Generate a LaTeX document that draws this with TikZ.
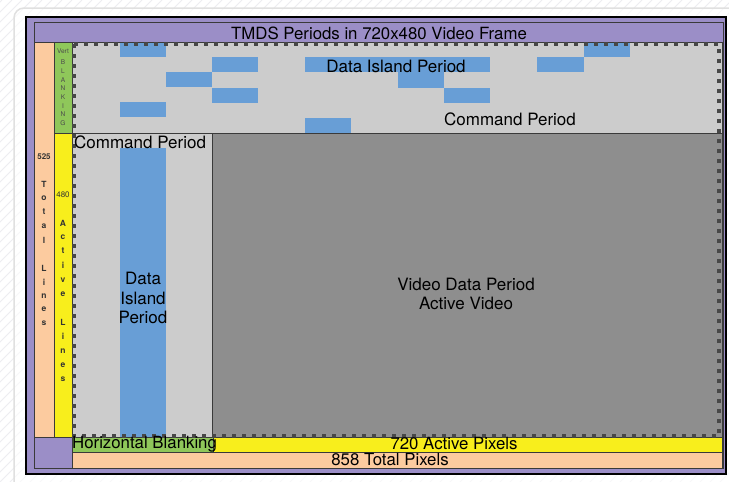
\documentclass[tikz,border=0pt]{standalone}
\usepackage{fontspec}
\setmainfont{TeX Gyre Heros}
\definecolor{pur}{HTML}{9B8EC7}
\definecolor{peach}{HTML}{FCCB9F}
\definecolor{grn}{HTML}{8FC75A}
\definecolor{yel}{HTML}{F8EE1C}
\definecolor{lgr}{HTML}{CCCCCC}
\definecolor{dgr}{HTML}{8E8E8E}
\definecolor{blu}{HTML}{689ED6}
\definecolor{edge}{HTML}{3A3A3A}
\definecolor{hatch}{HTML}{EDEDF1}
\begin{document}
\begin{tikzpicture}[x=1pt,y=-1pt,
  band/.style={draw=edge,line width=0.8pt},
  blk/.style={fill=blu,draw=none},
  lbl/.style={inner sep=0pt,font=\fontsize{17}{19}\selectfont,text=black},
  lblb/.style={inner sep=0pt,font=\fontsize{16.8}{18}\selectfont,text=black},
  tiny/.style={inner sep=0pt,font=\fontsize{8}{9}\selectfont,text=black!80},
  tinier/.style={inner sep=0pt,font=\fontsize{6.5}{7}\selectfont,text=black!70},
  dotbox/.style={draw=black!72,line width=4pt,dash pattern=on 4pt off 6pt}]
\useasboundingbox (0,0) rectangle (729,482);
\fill[white] (0,0) rectangle (729,482);
\begin{scope}
\clip (0,0) rectangle (729,482);
\foreach \i in {-480,-470,...,730} \draw[hatch,line width=0.8pt] (\i,482) -- (\i+482,0);
\end{scope}
\draw[black!12,line width=1.5pt,rounded corners=10pt,fill=white,fill opacity=0.6] (14,8) rectangle (760,500);
% outer frame
\draw[black,line width=2.5pt,fill=pur] (26,17) rectangle (726,474);
\draw[band] (34,22) rectangle (723,468);
% title
\draw[band,fill=pur] (34,22) rectangle (723,42);
\node[lblb] (title) at (379,33) {TMDS Periods in 720x480 Video Frame};
% left columns
\draw[band,fill=peach] (34,42) rectangle (54,437);
\draw[band,fill=grn] (54,42) rectangle (72,133);
\draw[band,fill=yel] (54,133) rectangle (72,437);
% main areas
\draw[band,fill=lgr] (72,42) rectangle (722,133);
\draw[band,fill=lgr] (72,133) rectangle (212,437);
\draw[band,fill=dgr] (212,133) rectangle (722,437);
% blue blocks top
\fill[blk] (120,43) rectangle (166,57);
\fill[blk] (212,57) rectangle (258,72);
\fill[blk] (305,57) rectangle (490,72);
\fill[blk] (537,57) rectangle (584,72);
\fill[blk] (584,43) rectangle (630,57);
\fill[blk] (166,72) rectangle (212,87);
\fill[blk] (398,72) rectangle (444,88);
\fill[blk] (212,88) rectangle (258,103);
\fill[blk] (444,88) rectangle (490,103);
\fill[blk] (120,102) rectangle (166,117);
\fill[blk] (305,118) rectangle (351,133);
% vertical data island
\fill[blk] (120,148) rectangle (166,437);
% bottom bands
\draw[band,fill=pur] (34,437) rectangle (72,468);
\draw[band,fill=peach] (72,452) rectangle (722,468);
\draw[band,fill=yel] (213,437) rectangle (722,452);
\draw[band,fill=grn] (72,437) rectangle (213,452);
% dotted active border
\draw[dotbox] (74,44) rectangle (719,436);
% texts
\node[lbl] (dip) at (396,66) {Data Island Period};
\node[lbl] (cmdtop) at (510,119) {Command Period};
\node[lbl,anchor=west] (cmdleft) at (74,142) {Command Period};
\node[lbl,align=center,font=\fontsize{17}{19.5}\selectfont] (dipv) at (143,298) {Data\\Island\\Period};
\node[lbl,align=center,font=\fontsize{17}{19}\selectfont] (vdp) at (466,294) {Video Data Period\\Active Video};
\node[lblb,anchor=west] (hb) at (72,444.5) {Horizontal Blanking};
\node[lblb] (ap) at (454,443.5) {720 Active Pixels};
\node[lblb] (tp) at (390,459.5) {858 Total Pixels};
% vertical labels
\node[tiny,font=\fontsize{8}{9}\selectfont\bfseries] (n525) at (44,157) {525};
\node[tiny] (n480) at (63,195) {480};
\foreach \ch/\yy [count=\k] in {T/184,o/198,t/212,a/226,l/240,L/268,i/282,n/296,e/309,s/323}
  \node[tiny,font=\fontsize{8.5}{9}\selectfont\bfseries] (tl\k) at (44,\yy) {\ch};
\foreach \ch/\yy [count=\k] in {A/223,c/237,t/251,i/265,v/280,e/294,L/322,i/336,n/351,e/365,s/379}
  \node[tiny,font=\fontsize{8.5}{9}\selectfont\bfseries] (al\k) at (63,\yy) {\ch};
\node[tinier] (vert) at (63,51) {Vert};
\foreach \ch/\yy [count=\k] in {B/62,L/71,A/80,N/88,K/97,I/106,N/114,G/123}
  \node[tinier] (vb\k) at (63,\yy) {\ch};
\end{tikzpicture}
\end{document}
